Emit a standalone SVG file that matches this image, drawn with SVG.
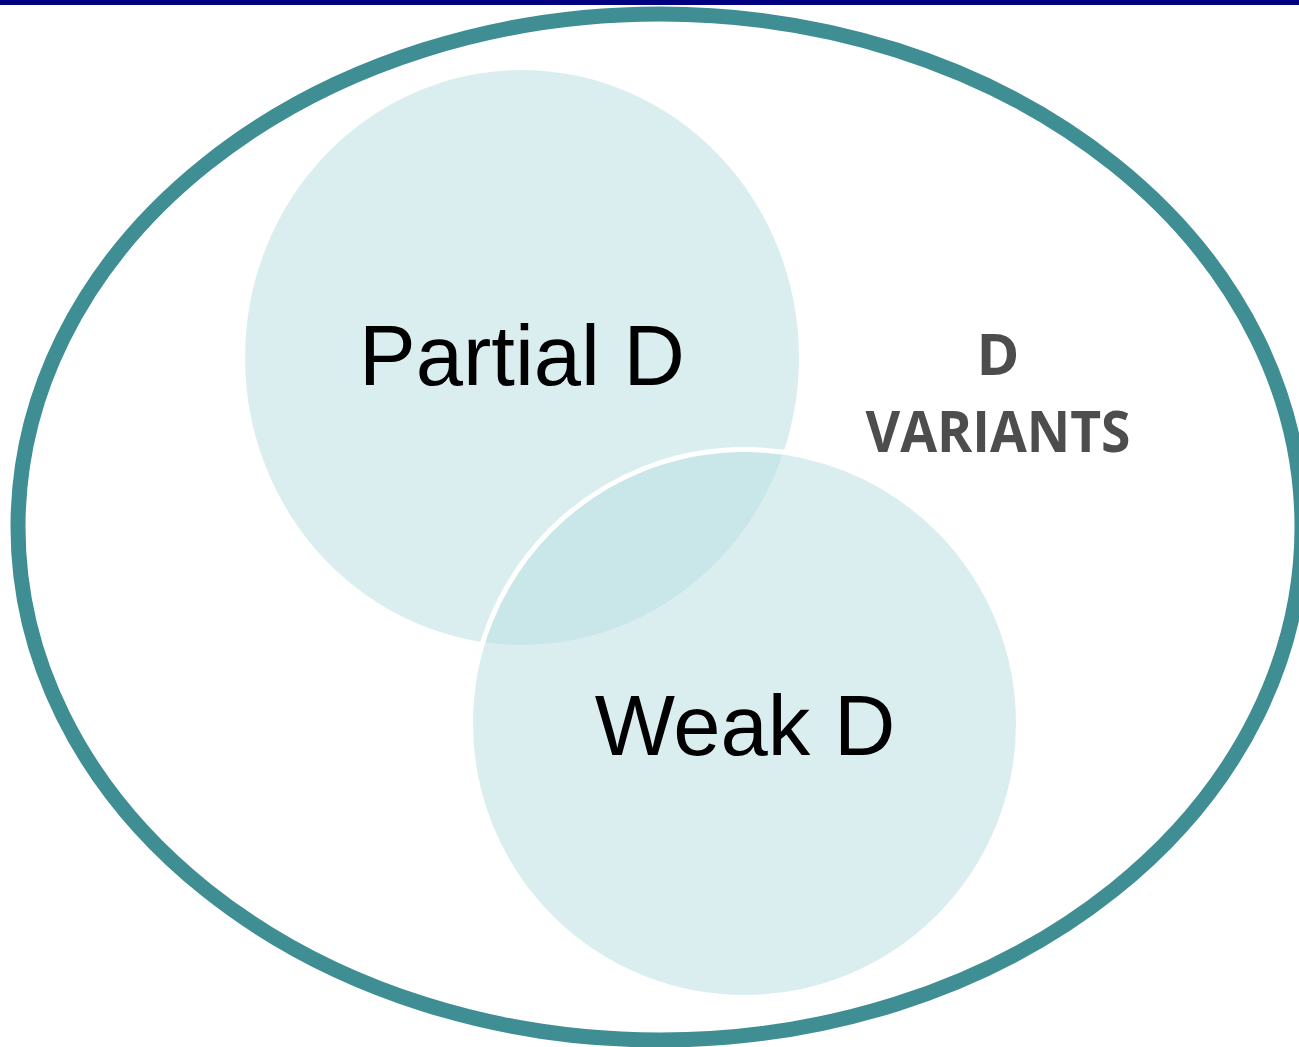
<svg xmlns="http://www.w3.org/2000/svg" width="1299" height="1047" viewBox="0 0 1299 1047">
<style>
.set{fill:#BCE0E4;fill-opacity:0.55}
.lbl{font-family:"Liberation Sans",Arial,sans-serif;font-size:85px;fill:#000;text-anchor:middle}
.title{font-family:"Open Sans","Liberation Sans",sans-serif;font-weight:bold;font-size:58px;fill:#4D4D4D;text-anchor:middle}
</style>
<rect x="0" y="0" width="1299" height="5" fill="#000080"/>
<g id="outer">
<ellipse cx="660" cy="527" rx="642" ry="513" fill="none" stroke="#3F8E93" stroke-width="15"/>
<text class="title" x="998" y="375">D</text>
<text class="title" x="998" y="452" textLength="265" lengthAdjust="spacingAndGlyphs">VARIANTS</text>
</g>
<g id="partial">
<ellipse class="set" cx="522" cy="357.5" rx="277" ry="287.5"/>
<text class="lbl" x="522" y="385">Partial D</text>
</g>
<g id="weak">
<circle class="set" cx="744.5" cy="723.5" r="274" stroke="#FFFFFF" stroke-width="5"/>
<text class="lbl" x="745" y="755">Weak D</text>
</g>
<g id="connectors"/>
</svg>
